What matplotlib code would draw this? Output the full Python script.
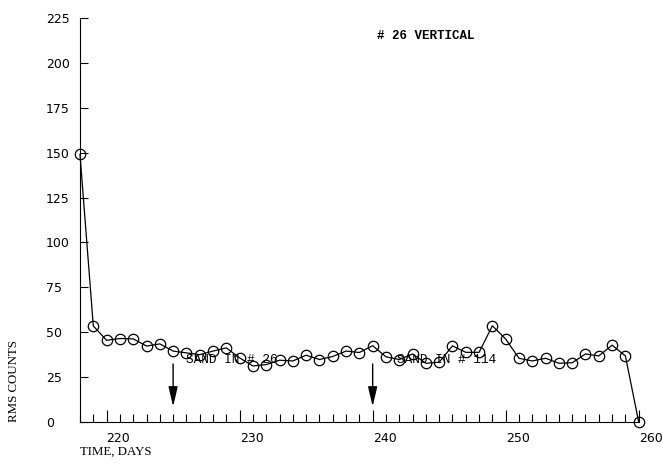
import numpy as np
import matplotlib.pyplot as plt
from matplotlib.ticker import MultipleLocator

# daily RMS counts, sensor 26 vertical
days = np.arange(218, 261)
rms = [149.0, 53.5, 45.5, 46.5, 46.3, 42.3, 43.5, 39.5, 38.5, 37.5,
       39.5, 41.3, 35.7, 31.2, 32.0, 34.4, 34.0, 37.2, 34.8, 36.5,
       39.5, 38.7, 42.5, 36.3, 34.8, 37.9, 32.7, 33.3, 42.4, 38.8,
       38.8, 53.6, 46.2, 35.5, 34.0, 35.5, 32.7, 33.0, 37.9, 36.8,
       42.8, 36.8, 0.0]

# sand events
event_days = [225, 240]
event_labels = ["SAND IN # 26", "SAND IN # 114"]
event_text_x = [226.0, 241.8]

serif = "Liberation Serif"
sans = "DejaVu Sans"
mono = "Liberation Mono"

fig = plt.figure(figsize=(6.63, 4.65), dpi=100)
ax = fig.add_axes([80/663, 1-422/465, (638.7-80)/663, (422-18)/465])

ax.plot(days, rms, color="black", lw=0.9, marker="o", ms=7.5,
        mfc="none", mec="black", mew=0.9, clip_on=False, zorder=3)

ax.set_xlim(218, 260)
ax.set_ylim(0, 225)

for s in ["top", "right"]:
    ax.spines[s].set_visible(False)
for s in ["left", "bottom"]:
    ax.spines[s].set_linewidth(0.8)

ax.xaxis.set_major_locator(MultipleLocator(10))
ax.xaxis.set_minor_locator(MultipleLocator(1))
ax.yaxis.set_major_locator(MultipleLocator(25))
ax.tick_params(axis="x", which="major", direction="in", length=8.6, width=0.8, pad=7)
ax.tick_params(axis="x", which="minor", direction="in", length=5.8, width=0.8)
ax.tick_params(axis="y", which="major", direction="in", length=5.8, width=0.8, pad=24.5)

for lab in ax.get_xticklabels():
    lab.set_ha("left")
    lab.set_fontfamily(sans)
    lab.set_fontsize(9)
for lab in ax.get_yticklabels():
    lab.set_ha("left")
    lab.set_fontfamily(sans)
    lab.set_fontsize(9)

# arrows marking when sand was added
for d in event_days:
    ax.annotate("", xy=(d, 8.6), xytext=(d, 32.3),
                arrowprops=dict(arrowstyle="-|>,head_length=1.2,head_width=0.28",
                                color="black", lw=1.0, shrinkA=0, shrinkB=0))
for x, t in zip(event_text_x, event_labels):
    ax.text(x, 34.3, t, family=mono, fontsize=9.2, va="center", ha="left", zorder=2)

ax.text(240.3, 215, "# 26 VERTICAL", family=mono, fontsize=9,
        fontweight="bold", va="center", ha="left")

fig.text(80/663, 1-452/465, "TIME, DAYS", family=serif, fontsize=9.3,
         ha="left", va="center")
fig.text(14/663, 1-381/465, "RMS COUNTS", family=serif, fontsize=9.3,
         rotation=90, ha="center", va="center")

fig.savefig("out.png", dpi=100)
